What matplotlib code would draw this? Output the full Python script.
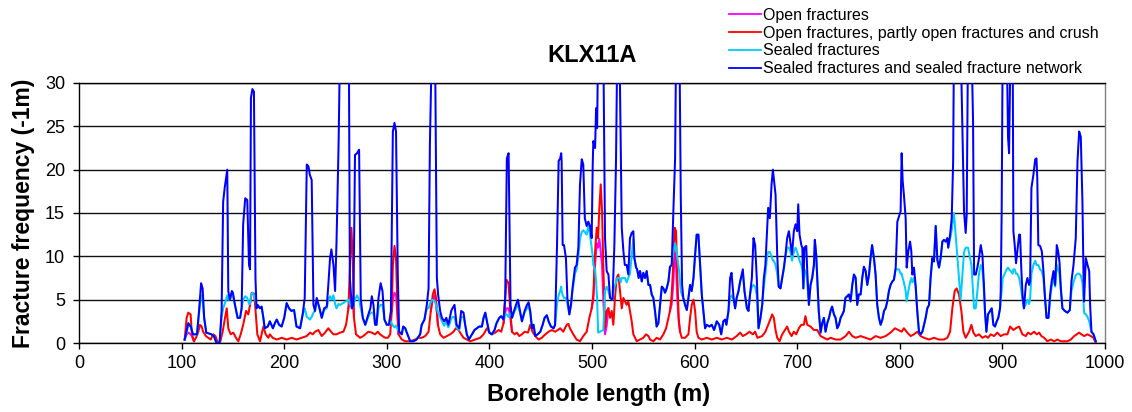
import numpy as np
import matplotlib
matplotlib.use("Agg")
import matplotlib.pyplot as plt
from matplotlib.lines import Line2D

plt.rcParams['font.family'] = ['Liberation Sans', 'DejaVu Sans']

title = "KLX11A"
xlabel = "Borehole length (m)"
ylabel = "Fracture frequency (-1m)"
labels = ["Open fractures",
          "Open fractures, partly open fractures and crush",
          "Sealed fractures",
          "Sealed fractures and sealed fracture network"]
xticks = list(range(0, 1001, 100))
yticks = list(range(0, 31, 5))

# ---- sealed series: common depth grid ----
sealed_depth = [
    103, 106.5, 109, 111, 115, 117, 119, 120.5, 122, 124,
    129, 131.5, 134, 137, 139, 140.5, 142, 144.5, 145.5, 147,
    149, 150, 152, 154.6, 157, 158.5, 160, 162, 164, 165.7,
    166.7, 167.6, 169, 170.5, 172, 173, 174, 176.4, 178, 179.7,
    181, 184, 186, 189, 191, 192.7, 195, 197.5, 200, 202.4,
    204.7, 207, 209.6, 212, 215.5, 218, 220, 222, 223.6, 225,
    226.8, 228.5, 230, 231.7, 234, 236.6, 238.9, 241.5, 243, 244.7,
    246, 248, 249.6, 251, 253, 254.5, 263, 264, 266, 267.5,
    269, 271, 273, 274.6, 276.6,
    279, 282, 284, 285.4, 287, 288.6, 290, 291.9, 294, 295.8,
    297.7, 300, 302, 304, 305.9, 307.5, 309, 310.7, 312, 314.6,
    316, 318, 319.5, 322.8, 326, 329, 332.5, 334, 336.7, 339,
    340.7, 342, 344, 347, 348.8, 350, 352, 353.7, 356, 358,
    360, 362.8, 364, 366, 368, 370.6, 372.5, 374.8, 376.4, 378,
    380, 383, 385.5, 387.8, 390, 392.7, 394.3, 396, 397.6, 399.8,
    402.4, 405, 407, 409.6, 411.5, 413.8, 415.4, 417, 418.7, 420.6,
    422, 424, 425.9, 427.8, 429.8, 431.7, 434.3, 436.6, 438.2, 439.8,
    441.5, 443, 444.7, 447, 449.6, 451.9, 453.8, 456, 457.7, 460,
    462.6, 464, 465.9, 467.5, 469, 470,
    470.4, 471.4, 472.7, 474.6, 476, 477.9, 479.5, 481, 483.4, 485,
    486.7, 488.3, 490, 491.5, 493, 494.8, 496.4, 498, 499.7, 500.7,
    501.3, 503, 504, 505, 506, 511, 512.7, 514.3, 516, 517.6,
    520, 521.8, 523.4, 524.7, 526.7, 528, 529, 530.6, 532, 533.8,
    535.4, 537, 538.7, 540.3, 541.3, 543, 544, 545.5, 546.8, 548.5,
    550, 551.7, 553.3, 555, 556.6, 558.2, 559.8, 561.4, 563, 564.7,
    566.3, 568, 569.6, 571.2, 572.8, 574.5, 576, 577.7, 579.3, 581,
    582, 585.2, 586.5, 587.8, 589, 590.7, 592.4, 594, 595.6, 597.2,
    598.9, 600.5, 602, 603.7, 605.4, 607, 608.6, 610.2, 611.9, 614.5,
    616.7, 619, 621.6, 624, 625.9, 628, 629.8, 631, 633, 634.6,
    636, 638, 639.5, 641, 642.8, 644.4, 647, 648.6, 651, 652.5,
    654, 655.8, 657.4, 659, 660.6, 662.3, 664.2,
    665.9, 667.5, 669, 670.7, 671.7, 673.3, 675, 676.3, 677.2, 678.9,
    680.5, 682, 683.7, 685.4, 687, 688.6, 690.2, 691.9, 693.5, 695,
    696.7, 698.4, 700, 701, 702.3, 704, 705, 706, 707, 708.8,
    709.8, 711.4, 713, 714.6, 716.3, 717.2, 718.5, 719.8, 721, 722.8,
    724.4, 726, 727.6, 729.3, 731, 732.5, 734, 735.8, 737.4, 739,
    740.7, 742.3, 744, 745.5, 747, 748.8, 750.4, 752, 753.7, 755.3,
    757, 758.5, 760, 761.8, 763.4, 765, 766.7, 768.3, 770, 771.5,
    773, 774.8, 776.4, 778, 779.7, 781.3, 783, 784.6, 786.2, 787.8,
    789.4, 791, 792.7, 794.3, 796, 797.6, 799.2, 800.8, 801.8, 802.8,
    804, 805.7, 806.7, 808.3, 810, 811.2, 812.2, 813.8, 815.4, 817,
    818.7, 820.3, 822, 823.6, 825.2, 826.8, 828.5, 830, 831.7, 833.3,
    835, 836.6, 838.2, 839.8, 841.5, 843, 844.7, 846.3, 847.2, 849,
    850.6, 852,
    852.8, 859.3, 862.6, 864.2, 865.2, 866.5, 869.8, 871.4, 872.4, 874,
    875.6, 877.2, 878.9, 880.5, 882, 883, 884.4, 886, 888, 889.6,
    891.2, 892.8, 894.5, 896, 897.7, 898.4, 899.3, 900.3, 904.2, 905.5,
    906.5, 908, 910, 910.7, 912, 913.3, 914.6, 916.3, 917.2, 918.5,
    919.8, 921, 922.8, 924.4, 926, 927, 928.3, 930.2, 932, 933.2,
    934, 935, 936.7, 938.4, 940, 941.3, 943, 944.9, 946.5, 948,
    949.8, 951.4, 953, 954.3, 955.6, 957, 958.5, 960.8, 963.4, 965.7,
    967.3, 969.3, 971.5, 973.2, 974.8, 976.4, 978, 979, 979.6, 981.3,
    983, 984.6, 985.5, 986.8, 988.8, 991,
]

sealed_network = [
    0.4, 2.3, 1.9, 1.0, 1.0, 3.7, 6.9, 6.3, 2.9, 1.2,
    1.0, 0.8, 0, 0, 3.7, 16.3, 17.9, 20.0, 6.0, 5.0,
    6.0, 5.8, 4.4, 2.9, 2.9, 4.0, 13.7, 16.7, 16.5, 9.0,
    8.5, 28.3, 29.3, 29.0, 7.5, 4.0, 4.4, 4.0, 4.2, 2.9,
    1.7, 1.9, 2.5, 1.7, 2.3, 2.7, 2.1, 1.9, 2.9, 4.6,
    4.0, 3.7, 3.8, 1.9, 1.7, 3.3, 5.2, 20.6, 20.4, 19.4,
    18.8, 4.4, 3.7, 5.2, 4.2, 2.9, 4.0, 4.2, 6.7, 9.8,
    10.8, 9.0, 6.0, 11.7, 22.9, 35, 35, 7.5, 4.0, 4.4,
    21.7, 21.9, 22.3, 5.2, 2.9,
    2.1, 3.3, 4.0, 5.4, 4.4, 2.1, 2.1, 5.2, 6.9, 6.0,
    2.7, 2.1, 2.1, 3.7, 24.4, 25.4, 24.4, 7.9, 1.3, 1.0,
    1.9, 1.7, 1.2, 0.2, 0.2, 0.4, 1.0, 2.1, 2.7, 4.4,
    6.3, 22.9, 35, 35, 7.5, 5.6, 3.7, 2.9, 2.5, 2.9,
    2.1, 3.7, 4.0, 4.4, 2.1, 1.7, 3.7, 3.5, 2.1, 1.0,
    0.4, 1.0, 1.5, 1.7, 1.9, 1.9, 2.9, 3.5, 2.5, 1.2,
    1.0, 1.5, 2.3, 2.9, 3.1, 2.7, 5.2, 21.3, 21.9, 4.4,
    2.9, 3.7, 4.4, 5.0, 3.7, 2.5, 3.7, 4.4, 4.7, 3.7,
    1.7, 2.1, 0.8, 1.0, 1.3, 2.1, 2.9, 3.2, 2.5, 1.9,
    1.7, 2.1, 11.3, 21.0, 21.3, 21.9,
    21.0, 11.3, 11.3, 9.8, 5.2, 3.3, 4.4, 6.3, 8.7, 9.0,
    11.0, 18.3, 21.2, 20.6, 14.4, 13.5, 14.0, 13.5, 12.1, 20.6,
    23.3, 22.5, 27.1, 24.8, 35, 35, 12.1, 8.3, 7.9, 5.2,
    5.0, 11.3, 21.0, 35, 35, 22.9, 13.3, 10.6, 9.0, 9.0,
    7.9, 12.1, 12.7, 12.9, 9.8, 8.7, 8.5, 7.5, 8.3, 7.1,
    8.1, 7.5, 8.3, 6.7, 6.7, 5.6, 5.2, 3.7, 1.9, 2.3,
    4.4, 6.5, 6.3, 5.8, 6.3, 7.1, 8.8, 9.0, 15.2, 21.3,
    35, 35, 17.1, 6.7, 5.2, 4.4, 3.8, 5.2, 6.7, 6.0,
    7.5, 10.2, 12.5, 12.5, 9.0, 5.6, 3.7, 1.7, 2.1, 1.9,
    2.1, 1.5, 2.5, 2.1, 1.0, 2.5, 2.7, 2.1, 3.7, 7.5,
    8.1, 5.2, 4.0, 5.2, 6.0, 7.1, 8.5, 6.0, 4.0, 3.7,
    5.6, 7.5, 12.1, 11.3, 7.5, 1.7, 2.9,
    4.4, 7.5, 9.0, 13.3, 15.6, 14.4, 18.3, 20.0, 19.0, 17.1,
    10.2, 6.5, 6.3, 7.5, 8.7, 10.2, 12.1, 12.9, 11.5, 10.2,
    12.9, 13.7, 12.9, 16.0, 12.5, 11.3, 11.0, 6.3, 11.0, 11.2,
    8.3, 4.4, 6.7, 7.5, 9.0, 11.9, 10.2, 6.7, 3.7, 1.2,
    2.3, 2.9, 1.3, 2.3, 2.9, 3.7, 4.2, 3.3, 2.9, 1.7,
    2.1, 2.9, 3.3, 3.7, 5.2, 5.4, 5.6, 4.8, 6.7, 7.9,
    7.5, 4.4, 5.6, 5.6, 7.5, 8.8, 8.3, 6.7, 7.9, 9.8,
    11.3, 9.8, 7.9, 4.4, 2.9, 2.1, 2.7, 3.7, 4.0, 4.8,
    6.0, 6.7, 7.1, 7.3, 8.7, 14.0, 14.6, 15.2, 21.9, 18.7,
    17.1, 14.4, 8.7, 10.6, 11.7, 10.6, 7.9, 8.7, 6.7, 3.7,
    1.3, 1.0, 1.3, 2.1, 2.9, 4.0, 4.4, 7.5, 9.8, 9.4,
    13.5, 9.6, 8.7, 9.8, 11.7, 11.9, 11.7, 12.1, 11.0, 12.5,
    14.4, 21.0,
    35, 35, 15.2, 12.7, 14.8, 35, 35, 25.6, 7.9, 7.9,
    8.7, 9.8, 11.3, 10.2, 6.7, 3.7, 1.3, 3.3, 3.7, 4.0,
    2.1, 1.9, 2.5, 2.9, 4.0, 6.0, 15.2, 35, 35, 23.7,
    21.9, 35, 35, 12.9, 11.3, 9.2, 10.6, 12.5, 12.5, 8.3,
    5.2, 4.0, 6.7, 7.5, 6.7, 7.1, 17.9, 19.4, 21.2, 21.3,
    19.0, 11.3, 11.2, 10.6, 8.3, 5.6, 2.9, 2.9, 5.6, 7.1,
    8.3, 6.7, 11.3, 10.6, 9.4, 6.3, 4.0, 3.7, 3.5, 3.8,
    7.1, 9.0, 12.1, 21.0, 24.4, 23.8, 16.3, 8.3, 4.8, 9.8,
    9.0, 8.3, 4.4, 1.3, 1.0, 0.2,
]

sealed = [
    0.4, 2.0, 1.9, 1.0, 1.0, 3.5, 5.5, 5.0, 2.9, 1.2,
    1.0, 0.8, 0, 0, 3.0, 4.0, 4.5, 5.5, 5.0, 5.0,
    5.5, 5.5, 4.4, 2.9, 2.9, 4.0, 5.0, 5.4, 5.2, 4.5,
    4.5, 5.5, 5.8, 5.5, 5.0, 4.0, 4.4, 4.0, 4.2, 2.9,
    1.7, 1.9, 2.5, 1.7, 2.3, 2.7, 2.1, 1.9, 2.9, 4.6,
    4.0, 3.7, 3.8, 1.9, 1.7, 3.3, 4.0, 3.0, 2.9, 2.7,
    3.0, 3.5, 3.7, 4.8, 4.2, 2.9, 3.8, 4.0, 5.0, 5.4,
    5.0, 5.5, 4.5, 4.0, 4.5, 4.4, 5.0, 4.5, 4.0, 4.4,
    5.0, 5.5, 5.0, 4.0, 2.9,
    2.1, 3.0, 3.5, 3.5, 3.5, 2.1, 2.1, 4.0, 4.4, 4.4,
    2.7, 2.1, 2.1, 2.5, 2.0, 1.8, 2.0, 1.5, 1.3, 1.0,
    1.9, 1.7, 1.2, 0.2, 0.2, 0.4, 1.0, 2.1, 2.7, 4.0,
    4.0, 4.5, 5.0, 4.8, 4.0, 3.5, 3.0, 2.5, 2.0, 2.5,
    1.8, 2.8, 3.0, 3.0, 1.8, 1.5, 3.0, 3.0, 2.1, 1.0,
    0.4, 1.0, 1.5, 1.7, 1.9, 1.9, 2.9, 3.5, 2.5, 1.2,
    1.0, 1.5, 2.3, 2.9, 3.1, 2.7, 3.3, 3.3, 3.0, 3.5,
    2.9, 3.5, 4.0, 4.4, 3.5, 2.5, 3.5, 4.0, 4.2, 3.5,
    1.7, 2.1, 0.8, 1.0, 1.3, 2.1, 2.9, 3.2, 2.5, 1.9,
    1.7, 2.1, 4.5, 5.5, 6.0, 6.5,
    6.0, 5.5, 5.2, 5.2, 4.5, 3.3, 4.4, 6.0, 8.0, 8.5,
    10.0, 12.0, 12.8, 13.0, 12.8, 12.5, 13.5, 12.5, 11.0, 10.0,
    9.0, 8.5, 7.0, 5.0, 1.2, 1.5, 6.0, 6.5, 6.0, 5.2,
    5.0, 6.5, 7.0, 7.5, 7.5, 7.0, 7.5, 7.5, 7.5, 7.0,
    7.5, 8.0, 10.0, 12.0, 9.8, 8.7, 8.5, 7.5, 8.3, 7.1,
    8.1, 7.5, 8.3, 6.7, 6.7, 5.6, 5.2, 3.7, 1.9, 2.3,
    4.4, 6.5, 6.3, 5.8, 6.3, 7.1, 8.8, 9.0, 10.5, 11.5,
    11.0, 8.0, 6.0, 5.5, 5.2, 4.4, 3.8, 5.2, 6.7, 6.0,
    7.5, 10.2, 12.5, 12.5, 9.0, 5.6, 3.7, 1.7, 2.1, 1.9,
    2.1, 1.5, 2.5, 2.1, 1.0, 2.5, 2.7, 2.1, 3.7, 5.2,
    5.5, 5.0, 4.0, 5.2, 6.0, 7.1, 8.0, 6.0, 4.0, 3.7,
    5.6, 6.5, 6.7, 6.5, 5.5, 1.7, 2.9,
    4.4, 6.5, 8.0, 10.0, 10.5, 10.5, 10.0, 9.5, 9.5, 9.0,
    8.0, 6.5, 6.3, 7.5, 8.5, 10.0, 11.0, 11.0, 10.5, 9.5,
    10.5, 11.0, 10.5, 10.0, 9.5, 9.0, 8.5, 6.3, 8.5, 8.0,
    7.0, 4.4, 6.7, 7.5, 9.0, 11.9, 10.2, 6.7, 3.7, 1.2,
    2.3, 2.9, 1.3, 2.3, 2.9, 3.7, 4.2, 3.3, 2.9, 1.7,
    2.1, 2.9, 3.3, 3.7, 5.2, 5.4, 5.6, 4.8, 6.7, 7.9,
    7.5, 4.4, 5.6, 5.6, 7.5, 8.8, 8.3, 6.7, 7.9, 9.8,
    11.3, 9.8, 7.9, 4.4, 2.9, 2.1, 2.7, 3.7, 4.0, 4.8,
    6.0, 6.7, 7.1, 7.3, 8.5, 8.5, 8.5, 8.0, 8.0, 7.5,
    7.0, 6.0, 4.8, 6.0, 7.0, 7.5, 7.0, 7.5, 6.5, 3.7,
    1.3, 1.0, 1.3, 2.1, 2.9, 4.0, 4.4, 7.5, 9.8, 9.4,
    13.5, 9.6, 8.7, 9.8, 11.7, 11.9, 11.7, 12.1, 11.0, 12.0,
    13.0, 14.5,
    15.0, 5.0, 10.5, 11.0, 11.0, 11.0, 9.0, 6.0, 4.0, 4.0,
    6.0, 8.0, 9.0, 8.5, 6.0, 3.7, 1.3, 3.3, 3.7, 4.0,
    2.1, 1.9, 2.5, 2.9, 4.0, 5.0, 6.0, 7.5, 8.5, 8.7,
    8.5, 8.3, 8.0, 8.5, 8.5, 8.0, 8.0, 7.5, 7.0, 6.0,
    5.0, 4.0, 4.5, 5.0, 4.5, 5.0, 8.0, 9.0, 9.5, 9.0,
    9.0, 9.0, 8.5, 8.3, 7.5, 5.6, 2.9, 2.9, 5.0, 6.5,
    7.5, 6.5, 9.0, 8.5, 8.0, 6.0, 4.0, 3.7, 3.5, 3.8,
    6.0, 7.0, 7.8, 8.0, 8.0, 7.8, 7.0, 5.0, 3.5, 3.3,
    3.0, 2.5, 2.0, 1.3, 1.0, 0.2,
]

# ---- open + partly open + crush ----
open_all_depth = [
    103, 104.9, 106.5, 108.8, 110, 112, 114, 116.3, 117.9, 119.5,
    121, 123.7, 126, 128.3, 131, 133, 134.8, 137.4, 140, 142.3,
    144, 145.5, 147.8, 150.4, 153, 155.3, 157.6, 160, 162.8, 165,
    166.7, 168.3, 170.6, 171.9, 173.8, 176.4, 178, 179.7, 182, 184.5,
    186, 188.8, 192.7, 197.6, 202.4, 207.3, 212, 217, 221.9, 225.2,
    227.8, 230, 233.3, 236.6, 239.8, 243, 245.7, 248, 251, 254.5,
    257.7, 260.3, 262.6, 264.2, 265.5, 266.8, 268, 270, 274, 277,
    282, 285.4, 288.6, 291.2, 293.5, 295.8, 298.4, 301, 303.3, 304.9,
    305.9, 307.5, 309, 310.4, 311.4, 314.6, 317.9, 322.8, 327.6, 331,
    334, 337.4, 340.7, 342.9, 344.8, 346.5, 348, 349.8, 352, 355.3,
    358.5, 361.8, 365, 367.3, 370, 372.5, 374.8, 378, 381.3, 386,
    391, 394.3, 397.6, 399.8, 402.4, 405.7, 409, 411.5, 413.8, 415.4,
    416.7, 418.7, 420.3, 422, 424.6, 426.8, 429, 431.7, 434.3, 437.6,
    439.8, 442, 444.7, 448, 451, 454.5, 457.7, 461, 464, 466.7,
    469, 472, 475.3, 477, 478.5, 481.8, 485, 488.3, 491.5, 494.8,
    497.4, 499.7, 501.3, 503, 504.6, 505.9, 507.2, 508.5, 509.8, 511,
    512.7, 514.3, 516, 517.6, 519.2, 520.8, 522.4, 524, 525.7, 527.3,
    529, 530.6, 532.2, 533.8, 535.4, 537, 538.7, 540.3, 542, 543.6,
    546.8, 550, 552.7, 555, 556.6, 559.8, 563, 566.3, 569.6, 572.2,
    574.5, 576, 577.7, 579.3, 580.6, 581.9, 583.2, 584.5, 585.8, 587.5,
    590.7, 594, 595.6, 597.2, 598.9, 600.5, 602, 603.7, 607, 611.9,
    616.7, 621.6, 626.5, 631.4, 636.3, 641, 644.4, 647, 650.2, 653.5,
    656.7, 659, 661.3,
    665.9, 669, 672.4, 675.6, 677.2, 678.9, 680.5, 682.8, 685.4, 688,
    690.2, 692, 694.5, 696.7, 699, 701.6, 704, 706.5, 708, 709.8,
    713, 716.3, 719.5, 722.8, 726, 729.3, 732.5, 737.4, 742.3, 747.2,
    750.4, 753.7, 757, 761.8, 766.7, 771.5, 776.4, 781.3, 786.2, 791,
    795.3, 798.6, 801.8, 804, 807.3, 810.6, 813.8, 817, 820.3, 823.6,
    828.5, 833.3, 838.2, 843, 846.3, 849, 851.2, 853.5, 855.4, 857.7,
    860, 862, 864.2, 867.5, 869.8, 871.7, 874, 877.2, 880.5, 883.7,
    886, 888.6, 891.9, 895, 898.4, 901.6, 904.9, 907.5, 910.7, 913,
    916.3, 919.5, 922.8, 925, 927.6, 930.9, 933.5, 935.8, 938, 940.7,
    943.9, 947.2, 950.4, 953.7, 956.9, 960.2, 963.4, 966.7, 970, 972.5,
    974.8, 977, 979.7, 982.9, 986.2, 988.8, 991,
]

open_all = [
    0.4, 2.9, 3.5, 3.3, 1.0, 0.2, 0.6, 1.3, 2.1, 1.9,
    1.3, 0.8, 0.6, 0.4, 1.0, 0.8, 0.2, 0, 1.3, 2.9,
    4.0, 1.7, 1.0, 1.2, 0.6, 0.2, 1.0, 2.1, 3.7, 3.3,
    4.4, 5.8, 5.7, 4.0, 1.0, 0.2, 1.0, 1.9, 1.0, 0.6,
    1.0, 0.6, 0.4, 0.6, 0.4, 0.6, 0.4, 0.6, 0.8, 1.2,
    1.0, 1.3, 1.5, 0.8, 1.2, 1.7, 1.3, 1.0, 1.0, 1.2,
    1.3, 2.1, 4.0, 9.0, 13.3, 9.8, 2.9, 1.0, 0.6, 0.8,
    1.3, 1.2, 1.0, 1.3, 1.0, 0.8, 0.6, 0.6, 1.0, 3.7,
    9.0, 11.2, 9.8, 3.7, 1.0, 0.4, 0.2, 0.2, 0.4, 0.6,
    0.6, 0.8, 1.3, 3.7, 5.6, 6.2, 5.2, 2.1, 1.0, 0.6,
    0.8, 1.0, 1.3, 1.7, 1.5, 1.0, 0.6, 0.4, 0.2, 0.4,
    0.6, 1.0, 1.7, 1.3, 1.0, 1.2, 1.5, 1.3, 2.3, 5.2,
    7.3, 6.9, 3.7, 1.3, 1.0, 1.2, 0.8, 1.0, 1.3, 1.2,
    2.1, 1.3, 0.8, 0.4, 0.6, 1.0, 1.3, 1.5, 1.3, 1.5,
    1.7, 1.3, 2.1, 2.2, 1.7, 1.0, 0.4, 0.2, 0.8, 1.3,
    2.9, 4.0, 5.6, 10.6, 13.3, 12.1, 15.6, 18.3, 15.2, 9.0,
    1.7, 3.7, 4.0, 2.9, 3.7, 2.1, 5.2, 7.5, 7.9, 6.0,
    4.0, 5.2, 4.8, 4.4, 4.8, 3.7, 2.5, 1.0, 0.6, 0.2,
    0.4, 0.6, 1.0, 0.8, 0.4, 0.2, 0.6, 0.4, 1.0, 1.7,
    2.9, 3.7, 5.6, 9.4, 13.3, 12.9, 7.5, 2.9, 1.3, 0.6,
    0.6, 1.0, 2.9, 4.4, 5.0, 3.7, 1.3, 0.6, 0.4, 0.6,
    0.4, 0.6, 0.4, 0.6, 0.4, 0.8, 1.2, 0.8, 1.0, 1.3,
    1.0, 1.3, 0.6,
    0.8, 1.3, 2.3, 3.3, 2.9, 1.5, 0.6, 0.2, 1.0, 1.5,
    1.9, 1.3, 0.8, 1.3, 1.0, 1.7, 2.1, 2.1, 3.1, 2.1,
    1.9, 1.5, 1.5, 0.8, 0.6, 0.4, 0.6, 0.4, 0.4, 0.8,
    1.3, 0.8, 0.6, 0.8, 0.6, 0.4, 0.8, 0.6, 0.8, 1.2,
    1.7, 1.5, 1.3, 1.7, 1.2, 0.8, 1.0, 1.3, 0.8, 0.6,
    0.4, 0.6, 0.4, 0.4, 0.6, 1.3, 4.0, 6.0, 6.3, 5.6,
    3.7, 1.3, 0.6, 1.3, 2.1, 1.2, 0.8, 1.0, 0.6, 0.8,
    0.6, 1.0, 0.8, 1.2, 0.8, 1.0, 1.0, 1.9, 1.5, 1.7,
    1.9, 1.0, 0.8, 1.2, 1.0, 1.3, 1.0, 1.2, 0.8, 0.6,
    0.2, 0.4, 0.2, 0.4, 0.2, 0.2, 0.2, 0.4, 0.8, 1.0,
    1.2, 1.0, 0.8, 1.0, 0.8, 0.6, 0,
]

# ---- open fractures (visible where it separates from the red curve) ----
open_depth = [103, 104.9, 106.5, 108.8, 110, 112, np.nan,
              262.6, 264.2, 265.5, 266.8, 268, np.nan,
              304.9, 305.9, 307.5, 309, 310.4, 311.4, np.nan,
              342.9, 344.8, 346.5, 348, 349.8, np.nan,
              413.8, 415.4, 416.7, 418.7, 420.3, 422, np.nan,
              499.7, 501.3, 503, 504.6, 505.9, 507.2, 508.5, 509.8, 511,
              512.7, 514.3, 516, np.nan,
              576, 577.7, 579.3, 580.6, 581.9, 583.2, 584.5, 585.8]
open_frac = [0.4, 1.0, 1.2, 1.0, 0.8, 0.2, np.nan,
             4.0, 5.0, 5.5, 5.0, 2.9, np.nan,
             3.7, 5.0, 5.8, 5.5, 3.0, 1.0, np.nan,
             3.7, 5.0, 5.5, 4.5, 2.1, np.nan,
             2.3, 3.5, 4.0, 4.0, 3.0, 1.3, np.nan,
             4.0, 5.0, 9.0, 11.5, 11.0, 12.0, 10.5, 9.0, 5.0,
             1.0, 2.0, 4.0, np.nan,
             3.7, 4.5, 7.0, 10.5, 9.0, 5.0, 2.5, 1.3]

assert len(sealed_depth) == len(sealed_network) == len(sealed)
assert len(open_all_depth) == len(open_all)
assert len(open_depth) == len(open_frac)

colors = ['#FF00FF', '#FF0000', '#00CCFF', '#0000FF']

W, H = 1132, 412
fig = plt.figure(figsize=(W / 100, H / 100), dpi=100)
ax = fig.add_axes([79 / W, 1 - 343 / H, (1105 - 79) / W, (343 - 83) / H])

lw = 1.45
ax.plot(open_depth, open_frac, color=colors[0], lw=lw, zorder=3)
ax.plot(open_all_depth, open_all, color=colors[1], lw=lw, zorder=4)
ax.plot(sealed_depth, sealed, color=colors[2], lw=lw, zorder=5)
ax.plot(sealed_depth, sealed_network, color=colors[3], lw=lw, zorder=6)

ax.set_xlim(0, 1000)
ax.set_ylim(0, 30)
ax.set_xticks(xticks)
ax.set_yticks(yticks)
ax.yaxis.grid(True, color='#111111', lw=1.0)
ax.set_axisbelow(True)
for s in ['left', 'bottom', 'top']:
    ax.spines[s].set_color('black')
    ax.spines[s].set_linewidth(1.0)
ax.spines['right'].set_color('#808080')
ax.spines['right'].set_linewidth(1.0)
ax.tick_params(axis='both', direction='out', length=4, width=1,
               labelsize=13, colors='black')
ax.tick_params(axis='y', pad=6)
ax.tick_params(axis='x', pad=5)

fig.text(592 / W, 1 - 55 / H, title, ha='center', va='center',
         fontsize=17, fontweight='bold')
fig.text(24 / W, 1 - 213 / H, ylabel, ha='center', va='center',
         rotation=90, fontsize=16.5, fontweight='bold')
fig.text(599 / W, 1 - 395 / H, xlabel, ha='center', va='center',
         fontsize=17, fontweight='bold')

handles = [Line2D([], [], color=c, lw=1.3) for c in colors]
fig.legend(handles, labels, loc='upper left',
           bbox_to_anchor=(729 / W, 1 - 8 / H), frameon=False,
           fontsize=11.5, handlelength=2.0, handletextpad=0.15,
           labelspacing=0.17, borderpad=0, borderaxespad=0)

fig.savefig('out.png', dpi=100)
